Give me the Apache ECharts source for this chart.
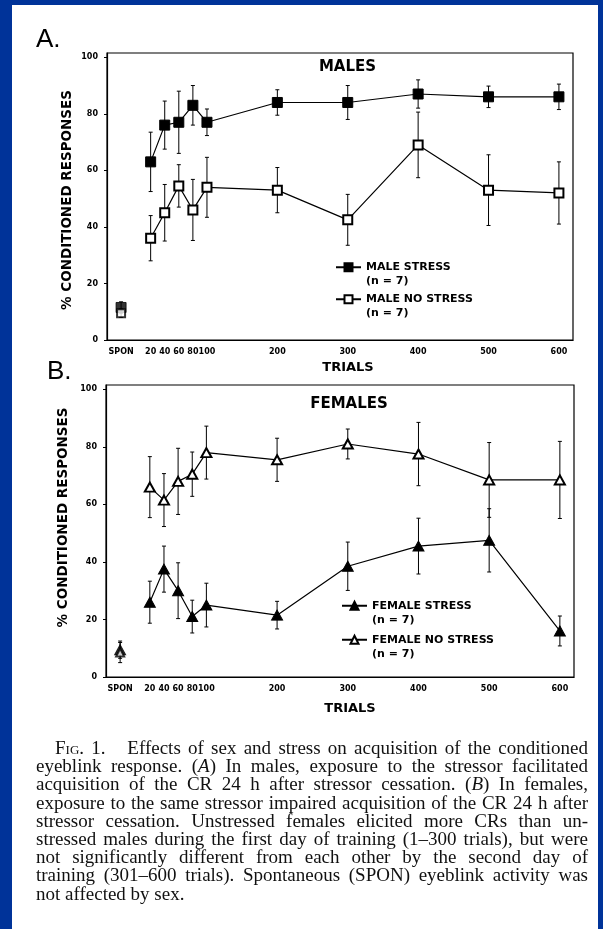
<!DOCTYPE html>
<html><head><meta charset="utf-8">
<script src="https://cdn.jsdelivr.net/npm/echarts@6/dist/echarts.min.js"></script>
<style>
html,body{margin:0;padding:0;width:603px;height:929px;overflow:hidden;background:#003399;}
#panel{position:absolute;left:12px;top:5px;width:586px;height:924px;background:#fff;}
#chart{position:absolute;left:0;top:0;width:603px;height:929px;}
#caption{position:absolute;left:36px;top:739px;width:552px;font-family:'Liberation Serif','Times New Roman',serif;font-size:19px;color:#111;}
#caption div{height:18.2px;line-height:18.2px;text-align:justify;text-align-last:justify;white-space:nowrap;}
#caption div.first{padding-left:19px;}
#caption div.last{text-align:left;text-align-last:left;}
</style></head>
<body>
<div id="panel"></div>
<div id="chart"></div>
<div id="caption">
<div class="first"><span style="font-variant:small-caps">Fig.</span> 1.&nbsp;&nbsp; Effects of sex and stress on acquisition of the conditioned</div>
<div>eyeblink response. (<i>A</i>) In males, exposure to the stressor facilitated</div>
<div>acquisition of the CR 24 h after stressor cessation. (<i>B</i>) In females,</div>
<div>exposure to the same stressor impaired acquisition of the CR 24 h after</div>
<div>stressor cessation. Unstressed females elicited more CRs than un-</div>
<div>stressed males during the first day of training (1–300 trials), but were</div>
<div>not significantly different from each other by the second day of</div>
<div>training (301–600 trials). Spontaneous (SPON) eyeblink activity was</div>
<div class="last">not affected by sex.</div>
</div>
<script>
// ---- data ----
const sponX = -22;
const trials = [20, 40, 60, 80, 100, 200, 300, 400, 500, 600];
const xTickValues = [-22, 20, 40, 60, 80, 100, 200, 300, 400, 500, 600];
const xTickLabels = ['SPON', '20', '40', '60', '80', '100', '200', '300', '400', '500', '600'];
const yTickValues = [0, 20, 40, 60, 80, 100];

const maleStress = [63, 76, 77, 83, 77, 84, 84, 87, 86, 86];
const maleStressErr = [10.5, 8.5, 11, 7, 4.7, 4.5, 6, 5, 3.8, 4.5];
const maleNoStress = [36, 45, 54.5, 46, 54, 53, 42.5, 69, 53, 52];
const maleNoStressErr = [8, 10, 7.5, 10.8, 10.6, 8, 9, 11.6, 12.5, 11];
const maleSponStress = 11.5, maleSponStressErr = 2;
const maleSponNoStress = 9.5, maleSponNoStressErr = 1.5;

const femaleStress = [26, 37.5, 30, 21, 25, 21.5, 38.5, 45.5, 47.5, 16];
const femaleStressErr = [7.3, 8, 9.7, 5.7, 7.6, 4.8, 8.4, 9.7, 11, 5.2];
const femaleNoStress = [66, 61.5, 68, 70.5, 78, 75.5, 81, 77.5, 68.5, 68.5];
const femaleNoStressErr = [10.6, 9.2, 11.5, 7.7, 9.2, 7.5, 5.2, 11, 13, 13.4];
const femaleSponStress = 9.5, femaleSponStressErr = 3;
const femaleSponNoStress = 8.5, femaleSponNoStressErr = 3.5;

const legendA = ['MALE STRESS', 'MALE NO STRESS'];
const legendB = ['FEMALE STRESS', 'FEMALE NO STRESS'];
const nLabel = '(n = 7)';

// ---- chart ----
const SANS = '"DejaVu Sans", "Liberation Sans", Arial, sans-serif';
const chart = echarts.init(document.getElementById('chart'), null, {renderer: 'canvas'});

function xAxis(gi) {
  return {
    type: 'value', gridIndex: gi, min: -42, max: 620,
    axisLine: {show: true, onZero: false, lineStyle: {color: '#000', width: 1.2}},
    axisTick: {show: false},
    splitLine: {show: false},
    axisLabel: {
      customValues: xTickValues, margin: 8, color: '#000', fontFamily: SANS,
      fontWeight: 'bold', fontSize: 8,
      formatter: v => { const i = xTickValues.findIndex(t => Math.abs(t - v) < 0.01); return i >= 0 ? xTickLabels[i] : ''; }
    }
  };
}
function yAxis(gi) {
  return {
    type: 'value', gridIndex: gi, min: 0, max: 101.5,
    axisLine: {show: true, onZero: false, lineStyle: {color: '#000', width: 1.2}},
    axisTick: {show: true, customValues: yTickValues, length: 3, lineStyle: {color: '#000'}},
    splitLine: {show: false},
    axisLabel: {customValues: yTickValues, margin: 9, color: '#000', fontFamily: SANS, fontWeight: 'bold', fontSize: 8}
  };
}

function errRender(params, api) {
  const x = api.value(0), lo = api.value(1), hi = api.value(2);
  const p1 = api.coord([x, hi]), p2 = api.coord([x, lo]);
  const w = 2;
  const st = {stroke: '#000', lineWidth: 1};
  return {type: 'group', children: [
    {type: 'line', shape: {x1: p1[0], y1: p1[1], x2: p2[0], y2: p2[1]}, style: st},
    {type: 'line', shape: {x1: p1[0] - w, y1: p1[1], x2: p1[0] + w, y2: p1[1]}, style: st},
    {type: 'line', shape: {x1: p2[0] - w, y1: p2[1], x2: p2[0] + w, y2: p2[1]}, style: st}
  ]};
}
function errSeries(gi, ys, errs, sponY, sponErr) {
  const data = trials.map((t, i) => [t, ys[i] - errs[i], ys[i] + errs[i]]);
  data.push([sponX, sponY - sponErr, sponY + sponErr]);
  return {type: 'custom', xAxisIndex: gi, yAxisIndex: gi, renderItem: errRender, data: data,
          encode: {x: 0, y: [1, 2]}, z: 1, silent: true};
}
function markerStyle(filled) {
  return filled ? {color: '#000', borderColor: '#000', borderWidth: 1}
                : {color: '#fff', borderColor: '#000', borderWidth: 2};
}
function lineSeries(gi, name, ys, symbol, size, filled, z) {
  return {type: 'line', name: name, xAxisIndex: gi, yAxisIndex: gi,
    data: trials.map((t, i) => [t, ys[i]]), symbol: symbol, symbolSize: size,
    showAllSymbol: true, itemStyle: markerStyle(filled),
    lineStyle: {color: '#000', width: 1.2}, z: z, animation: false};
}
function sponSeries(gi, y, symbol, size, filled, z) {
  return {type: 'scatter', xAxisIndex: gi, yAxisIndex: gi, data: [[sponX, y]],
    symbol: symbol, symbolSize: size, itemStyle: markerStyle(filled), z: z, silent: true};
}

function legend(names, left, top, lh, gap) {
  return {data: names, left: left, top: top, orient: 'vertical', itemWidth: 25, itemHeight: 10,
    itemGap: gap, selectedMode: false, padding: 0,
    formatter: n => '\u00a0\n' + n + '\n' + nLabel,
    textStyle: {fontFamily: SANS, fontWeight: 'bold', fontSize: 11, color: '#000', lineHeight: lh}};
}

function gtext(text, x, y, size, opts) {
  return Object.assign({type: 'text', x: x, y: y, silent: true,
    style: {text: text, fill: '#000', fontFamily: SANS, fontWeight: 'bold', fontSize: size, align: 'center', verticalAlign: 'middle'}}, opts || {});
}

const option = {
  animation: false,
  backgroundColor: 'transparent',
  grid: [
    {left: 107, right: 30, top: 53, bottom: 589, show: true, borderColor: '#000', borderWidth: 1.2},
    {left: 106, right: 29, top: 385, bottom: 252, show: true, borderColor: '#000', borderWidth: 1.2}
  ],
  xAxis: [xAxis(0), xAxis(1)],
  yAxis: [yAxis(0), yAxis(1)],
  legend: [legend(legendA, 335, 247, 13.5, -8.5), legend(legendB, 341, 584, 14.5, -9.5)],
  series: [
    errSeries(0, maleStress, maleStressErr, maleSponStress, maleSponStressErr),
    errSeries(0, maleNoStress, maleNoStressErr, maleSponNoStress, maleSponNoStressErr),
    lineSeries(0, legendA[0], maleStress, 'rect', 10, true, 2),
    lineSeries(0, legendA[1], maleNoStress, 'rect', 9, false, 3),
    sponSeries(0, maleSponStress, 'rect', 10, true, 4),
    sponSeries(0, maleSponNoStress, 'rect', 8, false, 5),
    errSeries(1, femaleStress, femaleStressErr, femaleSponStress, femaleSponStressErr),
    errSeries(1, femaleNoStress, femaleNoStressErr, femaleSponNoStress, femaleSponNoStressErr),
    lineSeries(1, legendB[0], femaleStress, 'triangle', [11, 10], true, 2),
    lineSeries(1, legendB[1], femaleNoStress, 'triangle', [10, 9], false, 3),
    sponSeries(1, femaleSponStress, 'triangle', [11, 10], true, 4),
    sponSeries(1, femaleSponNoStress, 'triangle', [8, 8], false, 5)
  ],
  graphic: [
    gtext('A.', 36, 40, 26, {style: {text: 'A.', fill: '#000', fontFamily: '"Liberation Sans", Arial, sans-serif', fontSize: 26, align: 'left', verticalAlign: 'middle'}}),
    gtext('B.', 47, 371.5, 26, {style: {text: 'B.', fill: '#000', fontFamily: '"Liberation Sans", Arial, sans-serif', fontSize: 26, align: 'left', verticalAlign: 'middle'}}),
    gtext('MALES', 347.5, 67, 15),
    gtext('FEMALES', 349, 404, 15),
    gtext('TRIALS', 348, 368, 13),
    gtext('TRIALS', 350, 708.5, 13),
    gtext('% CONDITIONED RESPONSES', 67, 200, 13.5, {rotation: Math.PI / 2}),
    gtext('% CONDITIONED RESPONSES', 63, 517.5, 13.5, {rotation: Math.PI / 2})
  ]
};
chart.setOption(option);
</script>
</body></html>
